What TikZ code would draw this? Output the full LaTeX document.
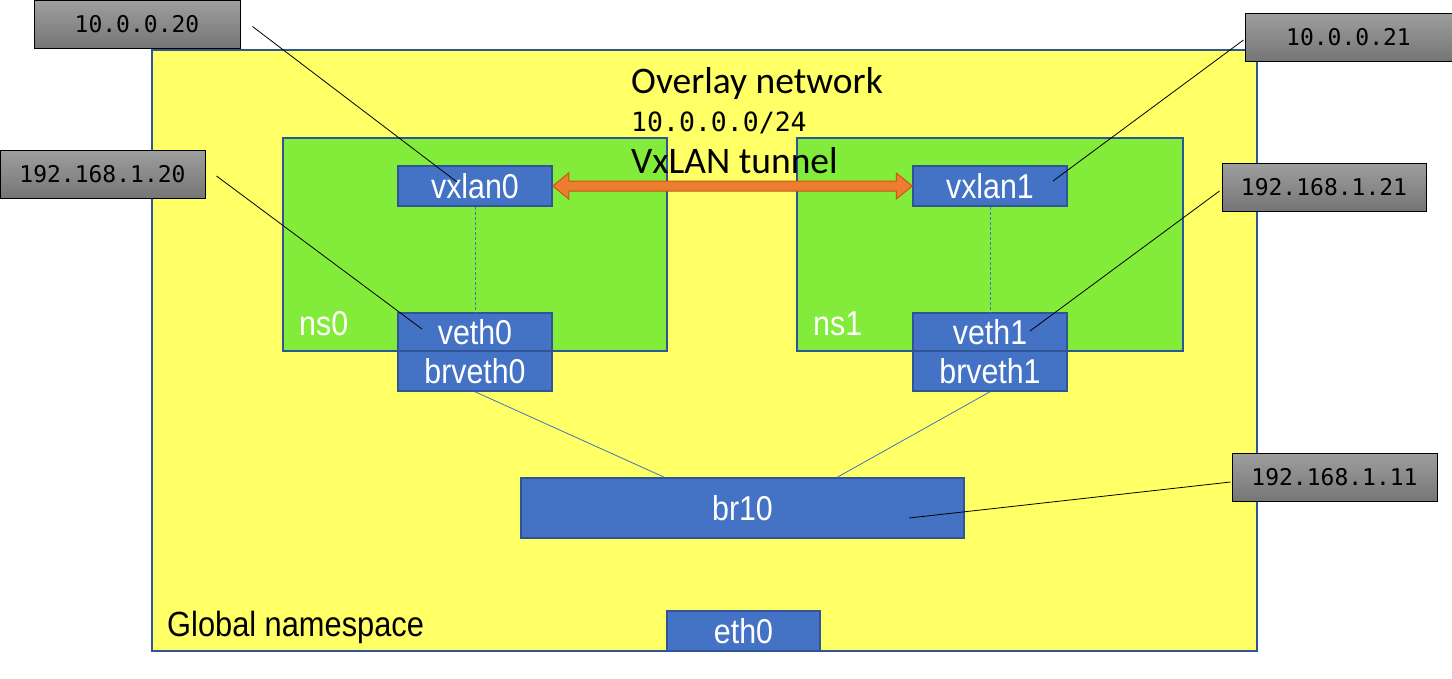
\documentclass[tikz,border=0pt]{standalone}
\usepackage{fontspec}
\setmainfont{Liberation Sans}
\newfontfamily\narrowfont[FakeStretch=0.88]{Liberation Sans}
\newfontfamily\calfont{Carlito}
\newfontfamily\monofont{DejaVu Sans Mono}
\usetikzlibrary{calc}
\definecolor{gyellow}{HTML}{FFFF66}
\definecolor{nsgreen}{HTML}{83EB3A}
\definecolor{ifblue}{HTML}{4472C4}
\definecolor{edgeblue}{HTML}{2F5597}
\definecolor{arroworange}{HTML}{ED7D31}
\definecolor{arrowedge}{HTML}{C55A11}
\tikzset{
  region/.style={draw=edgeblue, line width=1.5pt, inner sep=0pt},
  ifbox/.style={draw=edgeblue, line width=1.5pt, fill=ifblue, text=white, inner sep=0pt,
     font=\narrowfont\fontsize{34.5}{38}\selectfont},
  plaintext/.style={anchor=base west, inner sep=0pt},
  iplabel/.style={draw=black, line width=1pt, top color=black!38, bottom color=black!54,
     inner sep=0pt, minimum width=205, minimum height=48, font=\monofont\fontsize{23}{26}\selectfont},
  leader/.style={draw=black, line width=0.8pt},
  link/.style={draw=ifblue, line width=0.8pt},
  vlink/.style={draw=ifblue, line width=0.8pt, dash pattern=on 3pt off 2pt},
}
\begin{document}
\begin{tikzpicture}[x=1pt, y=-1pt]
\useasboundingbox (0,0) rectangle (1452,678);
% global namespace
\node[region, fill=gyellow, minimum width=1105, minimum height=601] (glob) at (704.5,350.5) {};
% namespaces
\node[region, fill=nsgreen, minimum width=384, minimum height=213] (ns0) at (475,244.5) {};
\node[region, fill=nsgreen, minimum width=386, minimum height=213] (ns1) at (990,244.5) {};
% interfaces
\node[ifbox, minimum width=154, minimum height=40] (vx0) at (475,186) {vxlan0};
\node[ifbox, minimum width=154, minimum height=40] (vx1) at (990,186) {vxlan1};
\node[ifbox, minimum width=154, minimum height=38] (ve0) at (475,332) {veth0};
\node[ifbox, minimum width=154, minimum height=40] (brve0) at (475,371) {brveth0};
\node[ifbox, minimum width=154, minimum height=38] (ve1) at (990,332) {veth1};
\node[ifbox, minimum width=154, minimum height=40] (brve1) at (990,371) {brveth1};
\node[ifbox, minimum width=443, minimum height=60] (br) at (742.5,508) {br10};
\node[ifbox, minimum width=153, minimum height=40] (eth) at (743.5,631) {eth0};
% texts
\node[plaintext, text=white, font=\narrowfont\fontsize{34.5}{38}\selectfont] (tns0) at (299,335) {ns0};
\node[plaintext, text=white, font=\narrowfont\fontsize{34.5}{38}\selectfont] (tns1) at (813,335) {ns1};
\node[plaintext, font=\narrowfont\fontsize{35}{38}\selectfont] (tglob) at (167,636) {Global namespace};
\node[plaintext, font=\calfont\fontsize{37.5}{40}\selectfont] (tov) at (631,93) {Overlay network};
\node[plaintext, font=\monofont\fontsize{26.5}{28}\selectfont] (tnet) at (631,131.5) {10.0.0.0/24};
\node[plaintext, font=\calfont\fontsize{37.5}{40}\selectfont] (ttun) at (631,173) {VxLAN tunnel};
% links
\draw[vlink] (vx0.south) -- (ve0.north);
\draw[vlink] (vx1.south) -- (ve1.north);
\draw[link] (brve0.south) -- ($(br.north west)+(144,0)$);
\draw[link] (brve1.south) -- ($(br.north west)+(317,0)$);
% tunnel arrow
\draw[fill=arroworange, draw=arrowedge, line width=1pt, line join=miter]
  (vx0.east) -- ++(16,-13) -- ++(0,8) -- ($(vx1.west)+(-16,-5)$) -- ++(0,-8) -- (vx1.west)
  -- ++(-16,13) -- ++(0,-8) -- ($(vx0.east)+(16,5)$) -- ++(0,8) -- cycle;
% ip labels
\node[iplabel, minimum width=206] (l1) at (137,24.5) {10.0.0.20};
\node[iplabel] (l2) at (102.5,174) {192.168.1.20};
\node[iplabel, minimum width=207] (l3) at (1348.5,37) {10.0.0.21};
\node[iplabel, minimum width=204] (l4) at (1324,187) {192.168.1.21};
\node[iplabel] (l5) at (1334.5,477.5) {192.168.1.11};
% leader endpoints
\coordinate (p1) at (457,182);
\coordinate (p2) at (422,329);
\coordinate (p3) at (1053,181);
\coordinate (p4) at (1030,331);
\coordinate (p5) at (909,518);
\draw[leader] ($(l1.east)+(12,2)$) -- (p1);
\draw[leader] ($(l2.east)+(11,2)$) -- (p2);
\draw[leader] ($(l3.west)+(-1,3)$) -- (p3);
\draw[leader] ($(l4.west)+(-2,4)$) -- (p4);
\draw[leader] ($(l5.west)+(-1,4.5)$) -- (p5);
\end{tikzpicture}
\end{document}
